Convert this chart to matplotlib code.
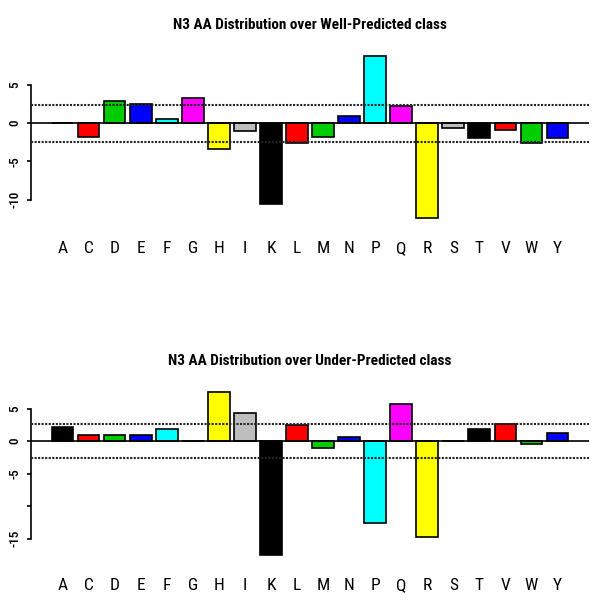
import numpy as np
import matplotlib
matplotlib.use('Agg')
import matplotlib.pyplot as plt

# amino acid labels and per-class values
aa = ['A', 'C', 'D', 'E', 'F', 'G', 'H', 'I', 'K', 'L',
      'M', 'N', 'P', 'Q', 'R', 'S', 'T', 'V', 'W', 'Y']
well_pred = [0, -1.84, 2.85, 2.54, 0.53, 3.33, -3.38, -1.05, -10.6, -2.63,
             -1.84, 1.0, 8.77, 2.28, -12.37, -0.66, -1.93, -0.88, -2.59, -1.93]
under_pred = [2.2, 1.0, 1.0, 0.95, 1.85, 0, 7.5, 4.3, -17.5, 2.4,
              -1.0, 0.6, -12.6, 5.7, -14.7, 0, 1.8, 2.65, -0.45, 1.2]

well_ticks = [-10, -5, 0, 5]
well_ticklabels = ['-10', '-5', '0', '5']
under_ticks = [-15, -10, -5, 0, 5]
under_ticklabels = ['-15', '', '-5', '0', '5']

well_cutoff = 2.45
under_cutoff = 2.6

# default R palette, recycled over the bars
palette = ['black', '#FF0000', '#00CD00', '#0000FF', '#00FFFF', '#FF00FF', '#FFFF00', '#BEBEBE']

plt.rcParams['font.family'] = ['Roboto Condensed', 'DejaVu Sans']


def draw_panel(ax, values, title, ticks, ticklabels, cutoff, ylim):
    """R-style barplot with a zero line and dotted cut-off lines"""
    n = len(values)
    centers = 0.7 + 1.2 * np.arange(n)
    colors = [palette[i % len(palette)] for i in range(n)]

    ax.bar(centers, values, width=1.0, color=colors, edgecolor='black', linewidth=1.2, zorder=2)
    ax.axhline(0, color='black', linewidth=1.2, zorder=3)
    for c in (cutoff, -cutoff):
        ax.axhline(c, color='#222222', linewidth=1.5, linestyle=(0, (1, 0.7)), zorder=4)

    ax.set_xlim(-0.752, 24.952)
    ax.set_ylim(*ylim)

    for side in ['top', 'right', 'bottom']:
        ax.spines[side].set_visible(False)
    ax.spines['left'].set_bounds(ticks[0], ticks[-1])
    ax.spines['left'].set_linewidth(1.2)

    ax.set_yticks(ticks)
    ax.set_yticklabels(ticklabels, rotation=90, va='center', fontsize=9.5, fontweight='medium')
    ax.tick_params(axis='y', length=3.2, width=1.2, pad=4)

    ax.set_xticks(centers)
    ax.set_xticklabels(aa, fontsize=12.5)
    ax.tick_params(axis='x', length=0, pad=12)

    ax.set_title(title, fontsize=11, fontweight='bold', pad=15)


fig = plt.figure(figsize=(6, 6.06), dpi=100)

ax1 = fig.add_axes([0.0517, 0.630, 0.93, 0.2878])
draw_panel(ax1, well_pred, 'N3 AA Distribution over Well-Predicted class',
           well_ticks, well_ticklabels, well_cutoff, (-13.2, 9.6))

ax2 = fig.add_axes([0.0517, 0.0738, 0.93, 0.2896])
draw_panel(ax2, under_pred, 'N3 AA Distribution over Under-Predicted class',
           under_ticks, under_ticklabels, under_cutoff, (-18.5, 8.5))

fig.savefig('out.png', dpi=100)
plt.close(fig)
